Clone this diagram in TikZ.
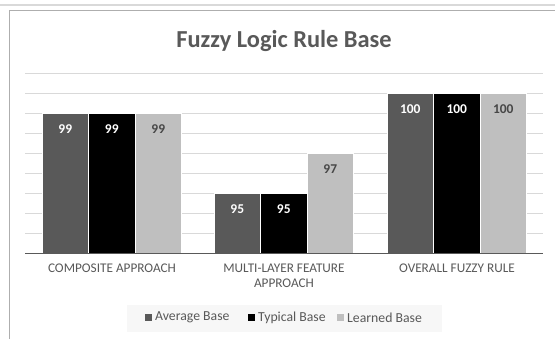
\documentclass[tikz,border=0pt]{standalone}
\usepackage{fontspec}
\setmainfont{Carlito}
\definecolor{avg}{HTML}{595959}
\definecolor{lrn}{HTML}{BFBFBF}
\definecolor{grid}{HTML}{D9D9D9}
\definecolor{txt}{HTML}{595959}
\begin{document}
\begin{tikzpicture}[x=1bp,y=-1bp,
  vlab/.style={font=\fontsize{13.5}{15}\selectfont\bfseries,anchor=center,inner sep=0pt},
  cat/.style={font=\fontsize{13.3}{14.5}\selectfont,text=txt,align=center,anchor=north,inner sep=0pt},
  leg/.style={font=\fontsize{13.8}{15}\selectfont,text=txt,anchor=west,inner sep=0pt}]
\useasboundingbox (0,0) rectangle (555,339);
\fill[white] (0,0) rectangle (555,339);
% outer frame
\draw[grid,line width=2bp] (0,5) -- (555,5);
\draw[grid!80!black,line width=0.6bp] (9,339) -- (9,10) -- (555,10);
% title
\node[font=\fontsize{24.5}{28}\selectfont\bfseries,text=txt] (title) at (284,41) {Fuzzy Logic Rule Base};
% gridlines
\foreach \v in {93,...,101}{
  \draw[grid,line width=0.8bp] (25,{253-(\v-92)*20}) -- (543,{253-(\v-92)*20});
}
% bars
\newcommand{\mybar}[4]{% x, value, color, name
  \fill[#3] (#1,253) rectangle ({#1+46.5},{253-(#2-92)*20});
  \draw[white,line width=0.5bp] (#1,253) -- (#1,{253-(#2-92)*20}) -- ({#1+46.5},{253-(#2-92)*20}) -- ({#1+46.5},253);
  \coordinate (#4) at ({#1+23.25},{253-(#2-92)*20+16});
}
\mybar{42}{99}{avg}{a1}
\mybar{88.5}{99}{black}{b1}
\mybar{135}{99}{lrn}{c1}
\mybar{214}{95}{avg}{a2}
\mybar{260.5}{95}{black}{b2}
\mybar{307}{97}{lrn}{c2}
\mybar{387}{100}{avg}{a3}
\mybar{433.5}{100}{black}{b3}
\mybar{480}{100}{lrn}{c3}
% axis
\draw[avg,line width=1bp] (25,253) -- (543,253);
% value labels
\node[vlab,text=white] (la1) at (a1) {99};
\node[vlab,text=white] (lb1) at (b1) {99};
\node[vlab,text=avg!80!black] (lc1) at (c1) {99};
\node[vlab,text=white] (la2) at (a2) {95};
\node[vlab,text=white] (lb2) at (b2) {95};
\node[vlab,text=avg!80!black] (lc2) at (c2) {97};
\node[vlab,text=white] (la3) at (a3) {100};
\node[vlab,text=white] (lb3) at (b3) {100};
\node[vlab,text=avg!80!black] (lc3) at (c3) {100};
% category labels
\node[cat] (k1) at (112,264) {COMPOSITE APPROACH};
\node[cat] (k2) at (284,264) {MULTI-LAYER FEATURE\\APPROACH};
\node[cat] (k3) at (457,264) {OVERALL FUZZY RULE};
% legend
\fill[black!3] (127,305) rectangle (442,332);
\fill[avg] (145,314) rectangle (152,321);
\node[leg] (l1) at (155,317.5) {Average Base};
\fill[black] (248,314) rectangle (255,321);
\node[leg] (l2) at (258,317.5) {Typical Base};
\fill[lrn] (337,314) rectangle (344,321);
\node[leg] (l3) at (347,317.5) {Learned Base};
\end{tikzpicture}
\end{document}
